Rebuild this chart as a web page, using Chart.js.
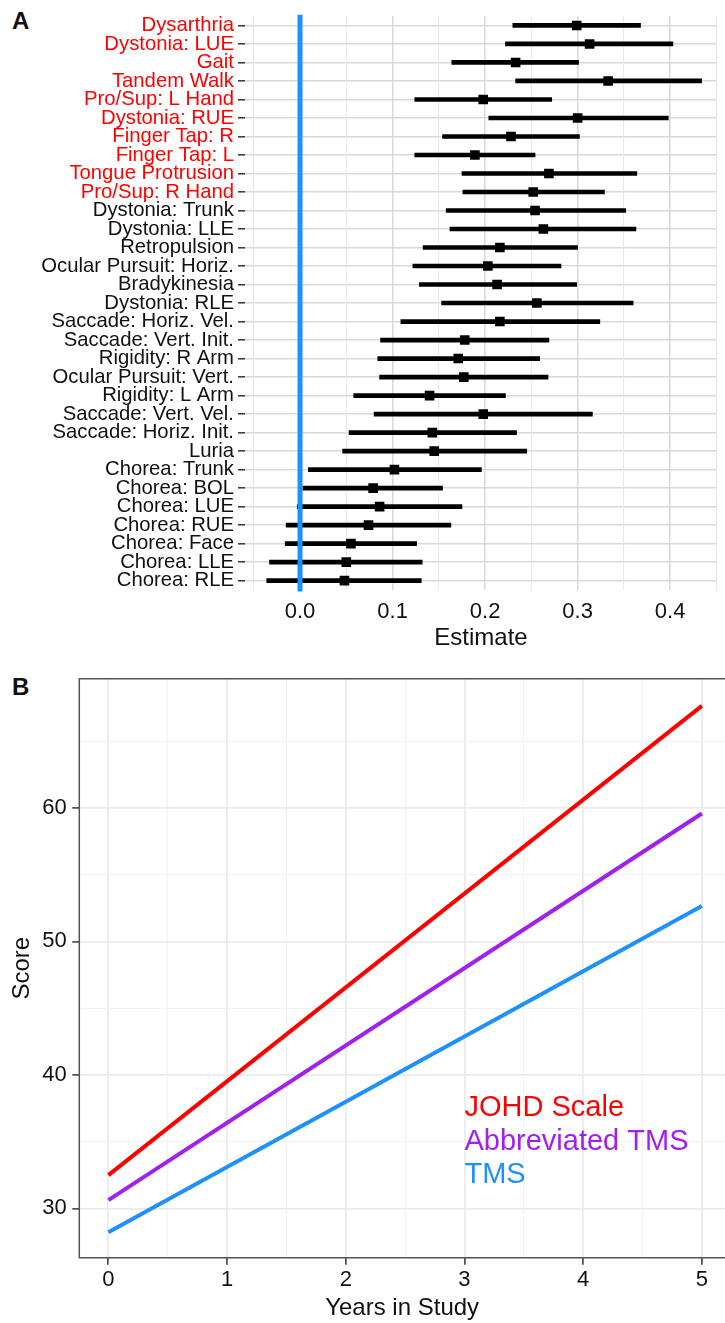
<!DOCTYPE html>
<html lang="en">
<head>
<meta charset="UTF-8" />
<title>Item estimates and score trajectories</title>
<script src="https://cdn.jsdelivr.net/npm/chart.js"></script>
<style>
  body {
    margin: 0;
    background: white;
    width: 725px;
    height: 1323px;
    overflow: hidden;
    position: relative;
    font-family: 'Liberation Sans', Arial, sans-serif;
  }
  canvas { position: absolute; left: 0; }
  #chartA { top: 0; }
  #chartB { top: 660px; }
  .tag {
    position: absolute;
    left: 12px;
    font-size: 24px;
    font-weight: bold;
    line-height: 1;
    color: #111;
  }
</style>
</head>
<body>
<div class="tag" style="top:8.5px">A</div>
<canvas id="chartA" width="725" height="660"></canvas>
<div class="tag" style="top:675px">B</div>
<canvas id="chartB" width="725" height="663"></canvas>

<script>
  // Panel A: item estimates with intervals
  const itemLabels = [
    'Dysarthria', 'Dystonia: LUE', 'Gait', 'Tandem Walk', 'Pro/Sup: L Hand',
    'Dystonia: RUE', 'Finger Tap: R', 'Finger Tap: L', 'Tongue Protrusion', 'Pro/Sup: R Hand',
    'Dystonia: Trunk', 'Dystonia: LLE', 'Retropulsion', 'Ocular Pursuit: Horiz.', 'Bradykinesia',
    'Dystonia: RLE', 'Saccade: Horiz. Vel.', 'Saccade: Vert. Init.', 'Rigidity: R Arm', 'Ocular Pursuit: Vert.',
    'Rigidity: L Arm', 'Saccade: Vert. Vel.', 'Saccade: Horiz. Init.', 'Luria', 'Chorea: Trunk',
    'Chorea: BOL', 'Chorea: LUE', 'Chorea: RUE', 'Chorea: Face', 'Chorea: LLE', 'Chorea: RLE'
  ];
  const estimates = [
    0.299, 0.313, 0.233, 0.333, 0.198, 0.300, 0.228, 0.189, 0.269, 0.252,
    0.254, 0.263, 0.216, 0.203, 0.213, 0.256, 0.216, 0.178, 0.171, 0.177,
    0.140, 0.198, 0.143, 0.145, 0.102, 0.079, 0.086, 0.074, 0.055, 0.050, 0.048
  ];
  const lowerCI = [
    0.230, 0.222, 0.164, 0.233, 0.124, 0.204, 0.154, 0.124, 0.175, 0.176,
    0.158, 0.162, 0.133, 0.122, 0.129, 0.153, 0.109, 0.087, 0.084, 0.086,
    0.058, 0.080, 0.053, 0.046, 0.009, 0.003, -0.003, -0.015, -0.016, -0.033, -0.036
  ];
  const upperCI = [
    0.368, 0.403, 0.301, 0.434, 0.272, 0.398, 0.302, 0.254, 0.364, 0.329,
    0.352, 0.363, 0.300, 0.282, 0.299, 0.360, 0.324, 0.269, 0.259, 0.268,
    0.222, 0.316, 0.234, 0.245, 0.196, 0.154, 0.175, 0.163, 0.126, 0.132, 0.131
  ];
  const highlighted = 10; // first items are labelled in red
  const referenceValue = 0;

  // Panel B: fitted score trajectories
  const years = [0, 5];
  const johdScale = [32.49, 67.64];
  const abbreviatedTms = [30.62, 59.58];
  const tms = [28.21, 52.66];
  const seriesNames = ['JOHD Scale', 'Abbreviated TMS', 'TMS'];
  const seriesColors = ['#ff0000', '#a020f0', '#1e90ff'];
  const labelX = 3;
  const labelY = [37.5, 35, 32.5];

  const FONT = "'Liberation Sans', Arial, sans-serif";
  Chart.defaults.font.family = FONT;
  Chart.defaults.color = '#111';
  Chart.defaults.animation = false;

  const isMultiple = (v, step) => Math.abs(v / step - Math.round(v / step)) < 1e-6;
  const tickVal = ctx => (ctx.tick ? ctx.tick.value : NaN);

  const zeroLine = {
    id: 'zeroLine',
    afterDatasetsDraw(chart) {
      const { ctx, chartArea, scales } = chart;
      const x = scales.x.getPixelForValue(referenceValue);
      ctx.save();
      ctx.strokeStyle = '#1e90ff';
      ctx.lineWidth = 5;
      ctx.beginPath();
      ctx.moveTo(x, chartArea.top - 1.5);
      ctx.lineTo(x, chartArea.bottom + 1.5);
      ctx.stroke();
      ctx.restore();
    }
  };

  new Chart(document.getElementById('chartA'), {
    type: 'bar',
    data: {
      labels: itemLabels,
      datasets: [
        {
          type: 'line',
          indexAxis: 'y',
          data: estimates,
          showLine: false,
          pointStyle: 'rect',
          pointRadius: 6.8,
          pointBorderWidth: 0,
          pointBackgroundColor: '#000',
          order: 0
        },
        {
          type: 'bar',
          indexAxis: 'y',
          data: itemLabels.map((_, i) => [lowerCI[i], upperCI[i]]),
          backgroundColor: '#000',
          barThickness: 4,
          borderSkipped: false,
          order: 1
        }
      ]
    },
    options: {
      indexAxis: 'y',
      responsive: false,
      layout: { padding: { top: 10.7, right: 0, bottom: 0, left: 0 } },
      plugins: { legend: { display: false }, tooltip: { enabled: false } },
      scales: {
        y: {
          type: 'category',
          offset: true,
          border: { display: false },
          grid: { offset: false, color: '#d9d9d9', lineWidth: 1.6, tickLength: 7, tickColor: '#333', tickWidth: 1.5 },
          ticks: {
            autoSkip: false,
            padding: 4,
            font: { size: 20.3 },
            color: ctx => (ctx.index < highlighted ? '#ff0000' : '#111')
          },
          afterFit: s => { s.width = 245; }
        },
        x: {
          type: 'linear',
          min: -0.0595,
          max: 0.4506,
          border: { display: false },
          grid: {
            drawTicks: false,
            color: ctx => (isMultiple(tickVal(ctx), 0.1) ? '#d9d9d9' : '#e9e9e9'),
            lineWidth: ctx => (isMultiple(tickVal(ctx), 0.1) ? 1.6 : 1.1)
          },
          ticks: {
            stepSize: 0.05,
            includeBounds: false,
            autoSkip: false,
            maxRotation: 0,
            padding: 8.6,
            font: { size: 22 },
            callback: v => (isMultiple(v, 0.1) ? v.toFixed(1) : '')
          },
          title: { display: true, text: 'Estimate', font: { size: 24 }, padding: { top: 0, bottom: 7.6 } },
          afterFit: s => { s.height = 70.1; }
        }
      }
    },
    plugins: [zeroLine]
  });

  const panelBorder = {
    id: 'panelBorder',
    afterDraw(chart) {
      const { ctx, chartArea: a } = chart;
      ctx.save();
      ctx.strokeStyle = '#555';
      ctx.lineWidth = 1.5;
      ctx.beginPath();
      ctx.moveTo(a.right + 2, a.top);
      ctx.lineTo(a.left, a.top);
      ctx.lineTo(a.left, a.bottom);
      ctx.lineTo(a.right + 2, a.bottom);
      ctx.stroke();
      ctx.restore();
    }
  };

  const seriesLabels = {
    id: 'seriesLabels',
    afterDatasetsDraw(chart) {
      const { ctx, scales: { x, y } } = chart;
      ctx.save();
      ctx.font = '29px ' + FONT;
      ctx.textAlign = 'left';
      ctx.textBaseline = 'middle';
      seriesNames.forEach((name, i) => {
        ctx.fillStyle = seriesColors[i];
        ctx.fillText(name, x.getPixelForValue(labelX), y.getPixelForValue(labelY[i]));
      });
      ctx.restore();
    }
  };

  const toPoints = vals => years.map((yr, i) => ({ x: yr, y: vals[i] }));

  new Chart(document.getElementById('chartB'), {
    type: 'line',
    data: {
      datasets: [johdScale, abbreviatedTms, tms].map((vals, i) => ({
        label: seriesNames[i],
        data: toPoints(vals),
        borderColor: seriesColors[i],
        borderWidth: 4,
        borderCapStyle: 'butt',
        pointRadius: 0,
        tension: 0
      }))
    },
    options: {
      responsive: false,
      layout: { padding: { top: 16.7, right: 0, bottom: 0, left: 0 } },
      plugins: { legend: { display: false }, tooltip: { enabled: false } },
      scales: {
        x: {
          type: 'linear',
          min: -0.245,
          max: 5.195,
          border: { display: false },
          grid: {
            color: ctx => (isMultiple(tickVal(ctx), 1) ? '#ebebeb' : '#f2f2f2'),
            lineWidth: ctx => (isMultiple(tickVal(ctx), 1) ? 1.8 : 1.1),
            tickLength: 7,
            tickWidth: 1.5,
            tickColor: ctx => (isMultiple(tickVal(ctx), 1) ? '#333' : 'rgba(0,0,0,0)')
          },
          ticks: {
            stepSize: 0.5,
            includeBounds: false,
            autoSkip: false,
            maxRotation: 0,
            padding: 2.1,
            font: { size: 22 },
            callback: v => (isMultiple(v, 1) ? String(Math.round(v)) : '')
          },
          title: { display: true, text: 'Years in Study', font: { size: 24 }, padding: { top: 0, bottom: 0.6 } },
          afterFit: s => { s.height = 65.3; }
        },
        y: {
          type: 'linear',
          min: 26.31,
          max: 69.67,
          border: { display: false },
          grid: {
            color: ctx => (isMultiple(tickVal(ctx), 10) ? '#ebebeb' : '#f2f2f2'),
            lineWidth: ctx => (isMultiple(tickVal(ctx), 10) ? 1.8 : 1.1),
            tickLength: 7,
            tickWidth: 1.5,
            tickColor: ctx => (isMultiple(tickVal(ctx), 10) ? '#333' : 'rgba(0,0,0,0)')
          },
          ticks: {
            stepSize: 5,
            includeBounds: false,
            autoSkip: false,
            padding: 5.6,
            font: { size: 22 },
            callback: v => (isMultiple(v, 10) ? String(Math.round(v)) : '')
          },
          title: { display: true, text: 'Score', font: { size: 24 }, padding: { top: 8, bottom: 0 } },
          afterFit: s => { s.width = 79.3; }
        }
      }
    },
    plugins: [seriesLabels, panelBorder]
  });
</script>
</body>
</html>
